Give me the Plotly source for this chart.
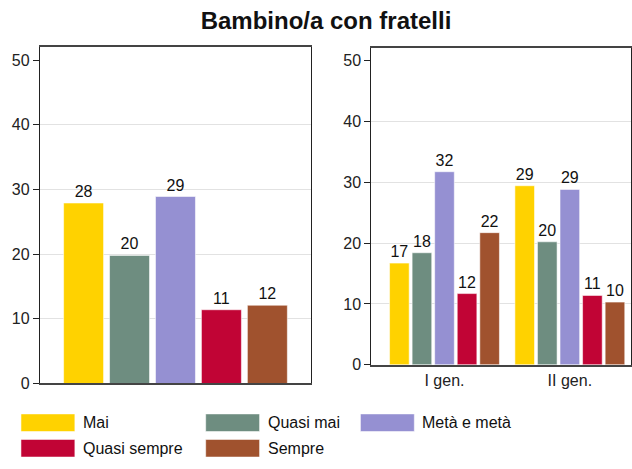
import plotly.graph_objects as go

# dati
risposte = ["Mai", "Quasi mai", "Metà e metà", "Quasi sempre", "Sempre"]
colori = ["#FFD200", "#6E8D80", "#9590D2", "#C10435", "#A0522E"]
generazioni = ["I gen.", "II gen."]
totale = [27.9, 19.8, 28.9, 11.4, 12.1]
prima_gen = [16.7, 18.4, 31.7, 11.7, 21.7]
seconda_gen = [29.4, 20.2, 28.8, 11.4, 10.3]
y_ticks = [0, 10, 20, 30, 40, 50]
griglia = [10, 20, 30, 40]

FONT = "Liberation Sans, Arial, sans-serif"
W, H = 632, 469


def px_x(p):
    return p / W


def px_y(p):
    return 1 - p / H


fig = go.Figure()

for i, nome in enumerate(risposte):
    stile = dict(color=colori[i], line=dict(color="rgba(255,255,255,0.55)", width=1))
    fig.add_trace(go.Bar(
        x=["Totale"], y=[totale[i]], name=nome, marker=stile,
        text=[f"{totale[i]:.0f}"], textposition="outside", cliponaxis=False,
        textfont=dict(size=16, color="#111"), xaxis="x", yaxis="y",
        showlegend=False,
    ))
    fig.add_trace(go.Bar(
        x=generazioni, y=[prima_gen[i], seconda_gen[i]], name=nome, marker=stile,
        text=[f"{prima_gen[i]:.0f}", f"{seconda_gen[i]:.0f}"],
        textposition="outside", cliponaxis=False,
        textfont=dict(size=16, color="#111"), xaxis="x2", yaxis="y2",
        showlegend=False,
    ))

asse_y = dict(
    range=[0, 52], tickvals=y_ticks, ticks="outside", ticklen=6, tickwidth=1,
    tickcolor="#222", showgrid=False, zeroline=False,
    showline=True, linecolor="#222", linewidth=1.2, mirror=True,
    minor=dict(tickvals=griglia, showgrid=True, gridcolor="#e2e2e2",
               gridwidth=1, ticks=""),
    tickfont=dict(size=16, color="#222"),
)
asse_x = dict(
    showgrid=False, zeroline=False, showline=True, linecolor="#444",
    linewidth=2, mirror=True, ticks="", tickfont=dict(size=16, color="#222"),
)

fig.update_layout(
    width=W, height=H,
    margin=dict(l=0, r=0, t=0, b=0),
    paper_bgcolor="white", plot_bgcolor="white",
    font=dict(family=FONT, color="#222"),
    barmode="group", bargap=0.1, bargroupgap=0.13,
    title=dict(text="<b>Bambino/a con fratelli</b>", x=px_x(326), xanchor="center",
               y=px_y(21), yanchor="middle", font=dict(size=24, color="#111")),
    xaxis=dict(asse_x, domain=[px_x(40), px_x(311.5)], range=[-0.531, 0.531],
               showticklabels=False, anchor="y"),
    yaxis=dict(asse_y, domain=[px_y(391), px_y(48)], anchor="x"),
    xaxis2=dict(asse_x, domain=[px_x(372), px_x(631.5)], range=[-0.583, 1.484],
                anchor="y2"),
    yaxis2=dict(asse_y, domain=[px_y(372), px_y(49)], anchor="x2"),
)

# legenda a riquadri larghi
colonne = [21, 206, 361]
righe = [431, 457]
for i, nome in enumerate(risposte):
    cx = colonne[i % 3]
    cy = righe[i // 3]
    fig.add_shape(type="rect", xref="paper", yref="paper",
                  x0=px_x(cx), x1=px_x(cx + 54),
                  y0=px_y(cy + 9), y1=px_y(cy - 9),
                  fillcolor=colori[i], line=dict(color="rgba(255,255,255,0.55)", width=1))
    fig.add_annotation(text=nome, xref="paper", yref="paper",
                       x=px_x(cx + 60), y=px_y(cy), xanchor="left", yanchor="middle",
                       showarrow=False, font=dict(size=16, color="#111"))

# niente margine del body: la figura occupa esattamente la finestra
fig.write_html("out.html", config={"displayModeBar": False},
               post_script="document.body.style.margin = '0';")
